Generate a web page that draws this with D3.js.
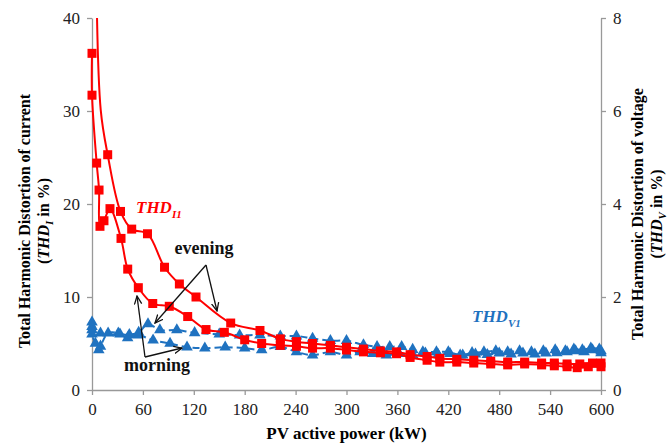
<!DOCTYPE html>
<html>
<head>
<meta charset="utf-8">
<script src="https://d3js.org/d3.v7.min.js"></script>
<style>
  body { margin: 0; background: #fff; }
  svg text { font-family: "Liberation Serif", "Times New Roman", serif; }
  .axis path, .axis line { stroke: #999; stroke-width: 1.3; }
  .axis text { font-size: 17px; fill: #222; }
</style>
</head>
<body>
<script>
// x = PV active power (kW), y = THD_I (%) on left axis
var thdIMorning = [[0,36.2],[0,31.7],[5.5,24.4],[8.3,21.5],[9.4,17.6],[14.1,18.2],[21.2,19.5],[34.2,16.3],[42.1,13.0],[54.6,11.0],[71.6,9.3],[91.1,9.0],[112.8,7.9],[134.4,6.5],[156,6.2],[180,5.4],[200,5.0],[222,4.8],[241,4.7],[260,4.5],[281,4.5],[300,4.3],[320,4.1],[340,4.0],[359,3.9],[375,3.5],[395,3.2],[410,3.0],[430,3.0],[450,2.9],[470,2.8],[490,2.7],[510,2.8],[530,2.7],[545,2.6],[560,2.5],[572,2.4],[585,2.5],[600,2.5]];
// first part of the evening curve runs off the top, no markers there
var thdIEveningHead = [[5.2,44],[10.3,30.1]];
var thdIEvening = [[18.5,25.3],[33.6,19.2],[46.8,17.3],[65.4,16.8],[85.5,13.2],[103,11.4],[122.6,10.0],[163.5,7.2],[198,6.4],[222,5.5],[241,5.2],[260,5.0],[281,4.8],[300,4.6],[320,4.4],[340,4.2],[359,4.1],[375,3.8],[395,3.6],[410,3.4],[430,3.3],[450,3.2],[470,3.1],[490,3.0],[510,3.0],[530,2.9],[545,2.9],[560,2.8],[575,2.8],[590,2.9],[600,2.9]];
// THD_V (%) on right axis
var thdVMorning = [[0,1.36],[0,1.29],[0,1.20],[4,1.0],[8,0.86],[10,0.94],[19,1.22],[31,1.22],[42,1.12],[54,1.18],[72,1.07],[92,1.0],[112,0.92],[133,0.90],[157,0.92],[180,0.90],[200,0.86],[222,0.93],[241,0.82],[260,0.75],[281,0.82],[300,0.75],[316,0.82],[331,0.78],[347,0.75],[362,0.78],[378,0.76],[393,0.79],[408,0.76],[422,0.78],[437,0.75],[452,0.77],[466,0.76],[480,0.79],[494,0.77],[508,0.79],[522,0.77],[535,0.79],[548,0.80],[560,0.82],[570,0.84],[580,0.82],[590,0.86],[600,0.80]];
var thdVEvening = [[0,1.46],[10,1.22],[33,1.20],[44,1.19],[55,1.24],[66,1.42],[80,1.29],[100,1.29],[121,1.23],[150,1.20],[174,1.18],[198,1.18],[222,1.16],[241,1.16],[260,1.11],[281,1.06],[300,1.06],[320,0.97],[336,0.93],[351,0.93],[365,0.93],[378,0.87],[390,0.82],[406,0.82],[420,0.82],[434,0.75],[448,0.80],[462,0.82],[476,0.84],[490,0.82],[504,0.84],[518,0.82],[532,0.84],[546,0.86],[558,0.84],[568,0.88],[578,0.86],[588,0.90],[598,0.88],[600,0.84]];

var xTicks = [0,60,120,180,240,300,360,420,480,540,600];
var yLeftTicks = [0,10,20,30,40];
var yRightTicks = [0,2,4,6,8];

var width = 670, height = 446;
var plotL = 92, plotR = 601, plotT = 18, plotB = 390;
var red = "#ff0000", blue = "#1f72c0";

var svg = d3.select("body").append("svg")
  .attr("width", width).attr("height", height)
  .attr("font-family", "Liberation Serif, Times New Roman, serif");

var x = d3.scaleLinear().domain([0, 600]).range([plotL, plotR]);
var yL = d3.scaleLinear().domain([0, 40]).range([plotB, plotT]);
var yR = d3.scaleLinear().domain([0, 8]).range([plotB, plotT]);

var defs = svg.append("defs");
defs.append("clipPath").attr("id", "plot")
  .append("rect").attr("x", plotL - 10).attr("y", plotT).attr("width", plotR - plotL + 20).attr("height", plotB - plotT + 10);

// axes
svg.append("g").attr("class", "axis").attr("transform", "translate(0," + plotB + ")")
  .call(d3.axisBottom(x).tickValues(xTicks).tickSize(5).tickSizeOuter(0).tickPadding(8));
svg.append("g").attr("class", "axis").attr("transform", "translate(" + plotL + ",0)")
  .call(d3.axisLeft(yL).tickValues(yLeftTicks).tickSize(5).tickSizeOuter(0).tickPadding(7));
svg.append("g").attr("class", "axis").attr("transform", "translate(" + plotR + ",0)")
  .call(d3.axisRight(yR).tickValues(yRightTicks).tickSize(5).tickSizeOuter(0).tickPadding(7));
svg.selectAll(".axis").attr("font-family", null);

var plot = svg.append("g").attr("clip-path", "url(#plot)");

var curve = d3.curveCatmullRom.alpha(0.5);
var lineL = d3.line().x(function(d){ return x(d[0]); }).y(function(d){ return yL(d[1]); }).curve(curve);
var lineR = d3.line().x(function(d){ return x(d[0]); }).y(function(d){ return yR(d[1]); }).curve(curve);

// blue THD_V lines (dashed, triangles)
[thdVMorning, thdVEvening].forEach(function(s) {
  plot.append("path").attr("d", lineR(s))
    .attr("fill", "none").attr("stroke", blue).attr("stroke-width", 2).attr("stroke-dasharray", "7,4");
  plot.selectAll(null).data(s).enter().append("path")
    .attr("d", d3.symbol().type(d3.symbolTriangle).size(58))
    .attr("transform", function(d){ return "translate(" + x(d[0]) + "," + yR(d[1]) + ")"; })
    .attr("fill", blue);
});

// red THD_I lines (solid, squares)
plot.append("path").attr("d", lineL(thdIMorning))
  .attr("fill", "none").attr("stroke", red).attr("stroke-width", 2);
plot.append("path").attr("d", lineL(thdIEveningHead.concat(thdIEvening)))
  .attr("fill", "none").attr("stroke", red).attr("stroke-width", 2);
[thdIMorning, thdIEvening].forEach(function(s) {
  plot.selectAll(null).data(s).enter().append("rect")
    .attr("x", function(d){ return x(d[0]) - 4.5; })
    .attr("y", function(d){ return yL(d[1]) - 4.5; })
    .attr("width", 9).attr("height", 9)
    .attr("fill", red);
});

// axis titles
svg.append("text").attr("x", (plotL + plotR) / 2).attr("y", 439)
  .attr("text-anchor", "middle").attr("font-size", 17).attr("font-weight", "bold")
  .text("PV active power (kW)");

function yTitle(cx, cy, line1, sub) {
  var g = svg.append("g").attr("transform", "translate(" + cx + "," + cy + ") rotate(-90)")
    .attr("font-weight", "bold").attr("font-size", 16).attr("text-anchor", "middle");
  g.append("text").attr("y", 0).text(line1);
  var t = g.append("text").attr("y", 19);
  t.append("tspan").text("(");
  t.append("tspan").attr("font-style", "italic").text("THD");
  t.append("tspan").attr("font-style", "italic").attr("font-size", 11).attr("dy", 4).text(sub);
  t.append("tspan").attr("dy", -4).text(" in %)");
}
yTitle(30, 221, "Total Harmonic Distortion of current", "I");
yTitle(643, 214, "Total Harmonic Distortion of voltage", "V");

// series labels
function seriesLabel(px, py, sub, color) {
  var t = svg.append("text").attr("x", px).attr("y", py)
    .attr("fill", color).attr("font-weight", "bold").attr("font-style", "italic").attr("font-size", 17);
  t.append("tspan").text("THD");
  t.append("tspan").attr("font-size", 11).attr("dy", 5).text(sub);
}
seriesLabel(136, 213, "I1", red);
seriesLabel(472, 322, "V1", blue);

// arrows
defs.append("marker").attr("id", "arr")
  .attr("viewBox", "0 0 10 10").attr("refX", 9).attr("refY", 5)
  .attr("markerWidth", 7).attr("markerHeight", 7).attr("orient", "auto")
  .append("path").attr("d", "M0,1 L9,5 L0,9").attr("fill", "none").attr("stroke", "#111").attr("stroke-width", 1.4);

var arrows = [[206, 265, 155, 323], [206, 265, 217, 311], [145, 357, 137, 296], [145, 357, 182, 348]];
svg.selectAll(null).data(arrows).enter().append("line")
  .attr("x1", function(d){ return d[0]; }).attr("y1", function(d){ return d[1]; })
  .attr("x2", function(d){ return d[2]; }).attr("y2", function(d){ return d[3]; })
  .attr("stroke", "#111").attr("stroke-width", 1.3).attr("marker-end", "url(#arr)");

svg.append("text").attr("x", 204).attr("y", 254).attr("text-anchor", "middle")
  .attr("font-weight", "bold").attr("font-size", 18).attr("fill", "#111").text("evening");
svg.append("text").attr("x", 157).attr("y", 371).attr("text-anchor", "middle")
  .attr("font-weight", "bold").attr("font-size", 18).attr("fill", "#111").text("morning");
</script>
</body>
</html>
